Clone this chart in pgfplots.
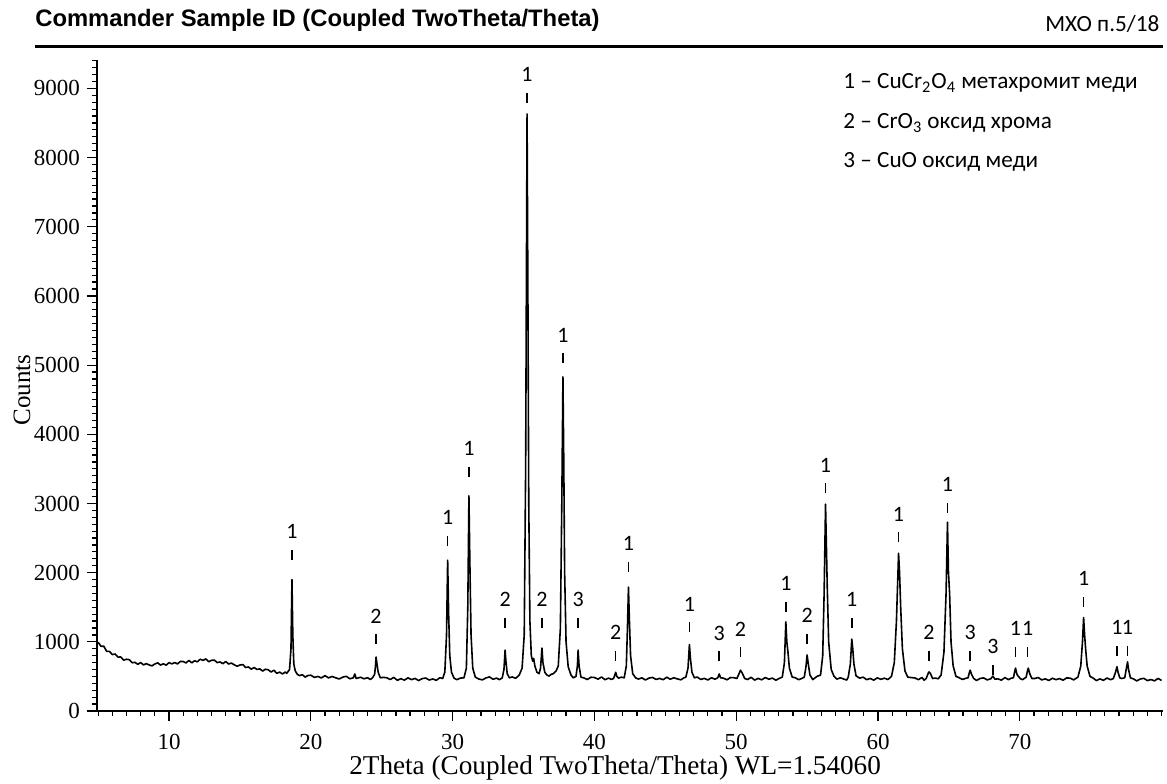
\documentclass[border=0pt]{standalone}
\usepackage{fontspec}
\setmainfont{Liberation Serif}
\newfontfamily\carlito{Carlito}
\newfontfamily\arialf{Liberation Sans}
\usepackage{pgfplots}
\pgfplotsset{compat=1.18}

% peak marker: number over a short dash, anchored at the dash bottom
\newcommand{\pk}[3]{\node[anchor=south, inner sep=0pt, align=center,
  font=\carlito\fontsize{11}{10.5}\selectfont] at (axis cs:#1,#2) {#3\\\rule{0.8pt}{5pt}};}

\begin{document}
\begin{tikzpicture}
\useasboundingbox (-48.5pt,-36pt) rectangle (535pt,355.5pt);
\begin{axis}[
  at={(0pt,0pt)}, anchor=south west,
  scale only axis, width=533pt, height=325.5pt,
  xmin=4.92, xmax=80.1, ymin=0, ymax=9410,
  axis x line*=bottom, axis y line*=left,
  axis line style={line width=0.8pt, -},
  xtick={10,20,...,70}, ytick={0,1000,...,9000},
  minor xtick={5,6,...,80}, minor ytick={0,100,...,9400},
  tick align=outside, major tick length=5pt, minor tick length=2.5pt,
  every tick/.style={black, line width=0.6pt},
  tick label style={font=\fontsize{11.5}{13}\selectfont},
  xticklabel style={yshift=-3pt},
  /pgf/number format/assume math mode=true,
  /pgf/number format/1000 sep={},
  xlabel={2Theta (Coupled TwoTheta/Theta) WL=1.54060},
  ylabel={Counts},
  every axis x label/.style={at={(axis description cs:0.486,-0.087)}, anchor=center,
    font=\fontsize{13.6}{15}\selectfont},
  every axis y label/.style={at={(axis description cs:-0.0704,0.493)}, rotate=90, anchor=center,
    font=\fontsize{12.5}{15}\selectfont},
  clip=false,
]
\addplot[black, line width=0.8pt, line join=round] coordinates {
(5.0,995) (5.2,935) (5.4,937) (5.6,862) (5.8,861) (6.0,816) (6.2,824) (6.4,779) (6.6,781) (6.8,735)
(7.0,748) (7.2,742) (7.4,698) (7.6,703) (7.8,674) (8.0,701) (8.2,666) (8.4,685) (8.6,666) (8.8,653)
(9.0,680) (9.2,696) (9.4,664) (9.6,683) (9.8,663) (10.0,699) (10.2,681) (10.4,701) (10.6,681) (10.8,717)
(11.0,715) (11.2,695) (11.4,732) (11.6,696) (11.8,726) (12.0,711) (12.2,749) (12.4,732) (12.6,753) (12.8,712)
(13.0,733) (13.2,735) (13.4,700) (13.6,709) (13.8,684) (14.0,716) (14.2,679) (14.4,693) (14.6,668) (14.8,647)
(15.0,665) (15.2,671) (15.4,629) (15.6,637) (15.8,605) (16.0,629) (16.2,601) (16.4,609) (16.6,577) (16.8,604)
(17.0,595) (17.2,564) (17.4,590) (17.6,544) (17.8,562) (18.0,536) (18.2,564)
(18.3,545) (18.5,600) (18.6,900) (18.67,1900) (18.73,1100) (18.8,680) (18.9,580) (19.05,530)
(19.2,512) (19.4,525) (19.6,490) (19.8,514) (20.0,517) (20.25,486) (20.5,499) (20.75,478) (21.0,511)
(21.25,479) (21.5,499) (21.75,480) (22.0,463) (22.25,489) (22.5,502) (22.75,466) (23.0,481) (23.1,535)
(23.2,470) (23.5,488) (23.75,466) (24.0,481) (24.2,456)
(24.35,480) (24.5,530) (24.56,650) (24.6,780) (24.66,690) (24.75,560) (24.9,480)
(25.1,486) (25.35,481) (25.6,455) (25.85,486) (26.1,444) (26.35,467) (26.6,446) (26.85,479) (27.1,454)
(27.35,471) (27.6,440) (27.85,468) (28.1,477) (28.35,448) (28.6,463) (28.85,444) (29.1,481)
(29.3,470) (29.45,560) (29.57,1100) (29.65,2180) (29.72,1400) (29.8,800) (29.92,560) (30.1,475)
(30.3,453) (30.55,476)
(30.8,480) (30.97,620) (31.07,1500) (31.15,3110) (31.22,2100) (31.3,1100) (31.42,620) (31.6,490)
(31.85,462) (32.1,450) (32.35,478) (32.6,493) (32.85,459) (33.1,476) (33.3,453)
(33.5,480) (33.62,600) (33.7,880) (33.76,720) (33.85,540) (34.0,480)
(34.2,492) (34.45,473)
(34.7,520) (34.9,620) (35.05,1100) (35.15,3500) (35.25,8630) (35.31,6000) (35.37,3000) (35.45,1300)
(35.55,800) (35.65,720) (35.72,760) (35.8,650) (35.95,560) (36.1,540)
(36.2,620) (36.3,910) (36.37,700) (36.5,560) (36.65,520) (36.8,505) (36.95,530) (37.1,540) (37.3,580)
(37.45,650) (37.6,1200) (37.7,3000) (37.78,4830) (37.84,3600) (37.9,2000) (38.0,1000) (38.15,640)
(38.35,520) (38.5,480) (38.7,500) (38.8,650) (38.85,880) (38.92,650) (39.05,490)
(39.25,479) (39.5,455) (39.75,488) (40.0,485) (40.25,460) (40.5,492) (40.75,452) (41.0,476) (41.2,456)
(41.35,470) (41.42,510) (41.5,560) (41.58,500) (41.7,475) (41.9,489)
(42.1,480) (42.25,650) (42.33,1200) (42.4,1790) (42.47,1300) (42.55,800) (42.7,540) (42.9,480)
(43.1,462) (43.35,479) (43.6,448) (43.85,476) (44.1,485) (44.35,456) (44.6,471) (44.85,452) (45.1,489)
(45.35,459) (45.6,481) (45.85,464) (46.1,451) (46.3,478)
(46.45,490) (46.6,620) (46.7,960) (46.77,760) (46.88,560) (47.05,480)
(47.25,491) (47.5,456) (47.75,472) (48.0,448) (48.25,481) (48.5,460)
(48.7,480) (48.8,535) (48.9,480)
(49.1,475) (49.35,451) (49.6,484) (49.85,481)
(50.05,470) (50.2,540) (50.3,590) (50.42,550) (50.6,470)
(50.8,455) (51.05,487) (51.3,447) (51.55,471) (51.8,451) (52.05,484) (52.3,459) (52.55,476) (52.8,445) (53.05,473)
(53.25,490) (53.4,700) (53.5,1290) (53.57,1000) (53.65,850) (53.75,620) (53.95,490)
(54.15,482) (54.4,453) (54.6,468)
(54.8,490) (54.92,640) (55.0,810) (55.07,700) (55.2,520)
(55.4,454) (55.7,501)
(55.95,520) (56.1,800) (56.2,1700) (56.3,2990) (56.36,2400) (56.42,1800) (56.52,1000) (56.7,600) (56.9,500)
(57.1,461) (57.35,480) (57.6,461) (57.8,448)
(57.9,490) (58.05,680) (58.15,1040) (58.22,900) (58.3,680) (58.45,510)
(58.7,475) (58.95,489) (59.2,454) (59.45,470) (59.7,446) (59.95,479) (60.2,458) (60.45,474) (60.7,455)
(60.95,500) (61.15,700) (61.3,1300) (61.45,2280) (61.52,2000) (61.6,1500) (61.72,900) (61.9,580) (62.1,490)
(62.35,483) (62.6,478) (62.85,453) (63.1,485) (63.25,445)
(63.4,470) (63.55,550) (63.6,565) (63.7,540) (63.85,470)
(64.05,476) (64.25,466)
(64.45,520) (64.65,850) (64.8,1700) (64.9,2730) (64.97,2000) (65.05,1700) (65.15,1000) (65.3,650) (65.5,500)
(65.7,484) (65.95,456) (66.2,473)
(66.35,480) (66.45,560) (66.5,590) (66.6,530) (66.75,470)
(66.95,442) (67.2,470) (67.45,479) (67.7,450)
(67.95,465) (68.1,505) (68.25,460)
(68.45,465) (68.7,446) (68.95,483) (69.2,453) (69.4,475)
(69.55,480) (69.65,580) (69.7,620) (69.8,530) (69.9,500)
(70.05,466) (70.2,453)
(70.45,490) (70.55,590) (70.6,620) (70.7,540) (70.85,470)
(71.05,470) (71.3,484) (71.55,449) (71.8,465) (72.05,441) (72.3,474) (72.55,453) (72.8,469) (73.05,445)
(73.3,478) (73.55,475) (73.8,450)
(74.1,490) (74.3,650) (74.42,1000) (74.5,1350) (74.57,1100) (74.65,880) (74.75,650) (74.95,500)
(75.15,480) (75.4,440) (75.65,464) (75.9,444) (76.15,477) (76.4,452)
(76.6,470) (76.75,560) (76.85,640) (76.93,560) (77.05,480) (77.2,470)
(77.4,480) (77.52,620) (77.6,710) (77.67,600) (77.8,480)
(78.0,466) (78.25,435) (78.5,463) (78.75,472) (79.0,440) (79.25,455) (79.5,436) (79.75,471) (80.0,441)
};
% phase markers
\pk{18.67}{2180}{1} \pk{24.6}{960}{2} \pk{29.65}{2380}{1} \pk{31.15}{3380}{1}
\pk{33.7}{1200}{2} \pk{35.25}{8790}{1} \pk{36.3}{1200}{2} \pk{37.78}{5020}{1}
\pk{38.85}{1200}{3} \pk{41.5}{720}{2} \pk{42.4}{2010}{1} \pk{46.7}{1130}{1}
\pk{48.8}{710}{3} \pk{50.3}{770}{2} \pk{53.5}{1430}{1} \pk{55.0}{970}{2}
\pk{56.3}{3140}{1} \pk{58.15}{1200}{1} \pk{61.45}{2430}{1} \pk{63.6}{720}{2}
\pk{64.9}{2860}{1} \pk{66.5}{720}{3} \pk{68.1}{520}{3} \pk{69.7}{780}{1}
\pk{70.55}{780}{1} \pk{74.5}{1500}{1} \pk{76.85}{790}{1} \pk{77.6}{790}{1}
% legend as plain text
\begin{scope}[every node/.style={anchor=west, inner sep=0pt, font=\carlito\fontsize{11.6}{13}\selectfont}]
\node at (rel axis cs:0.6998,0.9647) {1 – CuCr\textsubscript{2}O\textsubscript{4} метахромит меди};
\node at (rel axis cs:0.6998,0.9032) {2 – CrO\textsubscript{3} оксид хрома};
\node at (rel axis cs:0.6998,0.8433) {3 – CuO оксид меди};
\end{scope}
% header
\node[anchor=west, inner sep=0pt, font=\arialf\bfseries\fontsize{11.9}{13}\selectfont]
  at (rel axis cs:-0.0582,1.0614) {Commander Sample ID (Coupled TwoTheta/Theta)};
\node[anchor=east, inner sep=0pt, font=\carlito\fontsize{11.6}{13}\selectfont]
  at (rel axis cs:0.997,1.0553) {МХО п.5/18};
\draw[line width=1.2pt] (rel axis cs:-0.0582,1.021) -- (rel axis cs:1,1.021);
\end{axis}
\end{tikzpicture}
\end{document}
